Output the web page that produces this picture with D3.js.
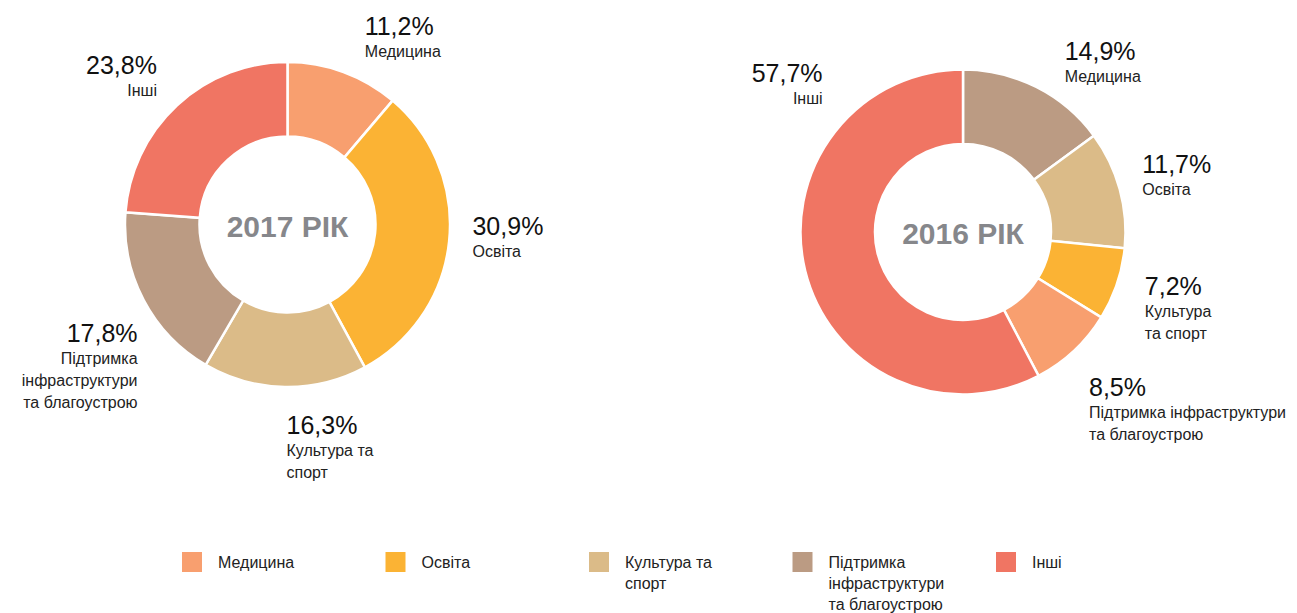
<!DOCTYPE html>
<html>
<head>
<meta charset="utf-8">
<script src="https://cdn.jsdelivr.net/npm/d3@7"></script>
<style>
  body { margin: 0; background: #fff; }
  text { font-family: "Liberation Sans", Arial, sans-serif; }
</style>
</head>
<body>
<script>
// categories and shares (%)
var categories = ["Медицина", "Освіта", "Культура та спорт", "Підтримка інфраструктури та благоустрою", "Інші"];
var values2017 = [11.2, 30.9, 16.3, 17.8, 23.8];
var values2016 = [14.9, 11.7, 7.2, 8.5, 57.7];
var years = ["2017 РІК", "2016 РІК"];

// label text as it is broken into lines on each chart
var labels2017 = [["Медицина"], ["Освіта"], ["Культура та", "спорт"], ["Підтримка", "інфраструктури", "та благоустрою"], ["Інші"]];
var labels2016 = [["Медицина"], ["Освіта"], ["Культура", "та спорт"], ["Підтримка інфраструктури", "та благоустрою"], ["Інші"]];
var legendLines = [["Медицина"], ["Освіта"], ["Культура та", "спорт"], ["Підтримка", "інфраструктури", "та благоустрою"], ["Інші"]];

var width = 1297, height = 613;
var outerR = 162.5, innerR = 88, labelR = 192;

var legendColors = ["#f89f6f", "#fbb334", "#dbbb88", "#bb9b83", "#f07563"];
var charts = [
  {title: years[0], values: values2017, labels: labels2017, cx: 287.5, cy: 224.5,
   colors: legendColors,
   nudge: [[11, -9], [-6, -9], [2, 18], [20, 28], [0, -10]]},
  {title: years[1], values: values2016, labels: labels2016, cx: 963, cy: 232,
   colors: ["#bb9b83", "#dbbb88", "#fbb334", "#f89f6f", "#f07563"],
   nudge: [[15, -1], [-6, -8], [0, 1], [-5, 24], [46, -196]]}
];

var fmt = function(v) { return v.toFixed(1).replace(".", ",") + "%"; };

var svg = d3.select("body").append("svg")
    .attr("width", width)
    .attr("height", height);

var pie = d3.pie().sort(null).value(function(d) { return d.value; });
var arc = d3.arc().innerRadius(innerR).outerRadius(outerR);

charts.forEach(function(c) {
  var data = categories.map(function(k, i) {
    return {name: k, value: c.values[i], lines: c.labels[i], color: c.colors[i], nudge: c.nudge[i]};
  });
  var g = svg.append("g").attr("transform", "translate(" + c.cx + "," + c.cy + ")");
  var arcs = pie(data);

  g.selectAll("path.slice")
    .data(arcs)
    .enter().append("path")
      .attr("class", "slice")
      .attr("d", arc)
      .style("fill", function(d) { return d.data.color; })
      .style("stroke", "#fff")
      .style("stroke-width", 2.5);

  g.append("text")
      .attr("x", 0)
      .attr("y", 12)
      .attr("text-anchor", "middle")
      .style("font-size", "30px")
      .style("font-weight", "bold")
      .style("fill", "#86878b")
      .text(c.title);

  var lab = g.selectAll("g.lab")
    .data(arcs)
    .enter().append("g")
      .attr("class", "lab")
      .attr("transform", function(d) {
        var a = (d.startAngle + d.endAngle) / 2;
        var x = labelR * Math.sin(a) + d.data.nudge[0];
        var y = -labelR * Math.cos(a) + d.data.nudge[1];
        return "translate(" + x + "," + y + ")";
      });

  lab.each(function(d) {
    var a = (d.startAngle + d.endAngle) / 2;
    var anchor = Math.sin(a) < -0.05 ? "end" : "start";
    var sel = d3.select(this);
    sel.append("text")
        .attr("text-anchor", anchor)
        .style("font-size", "25px")
        .style("fill", "#111")
        .text(fmt(d.data.value));
    d.data.lines.forEach(function(line, j) {
      sel.append("text")
          .attr("text-anchor", anchor)
          .attr("y", 22 * (j + 1))
          .style("font-size", "16px")
          .style("fill", "#222")
          .text(line);
    });
  });
});

// legend
var lx = d3.scalePoint().domain(categories).range([182, 996]);
var legend = svg.selectAll("g.legend")
  .data(categories)
  .enter().append("g")
    .attr("class", "legend")
    .attr("transform", function(d) { return "translate(" + lx(d) + ",552)"; });

legend.append("rect")
    .attr("width", 20)
    .attr("height", 20)
    .style("fill", function(d, i) { return legendColors[i]; });

legend.each(function(d, i) {
  var sel = d3.select(this);
  legendLines[i].forEach(function(line, j) {
    sel.append("text")
        .attr("x", 36)
        .attr("y", 16 + 21 * j)
        .style("font-size", "16px")
        .style("fill", "#222")
        .text(line);
  });
});
</script>
</body>
</html>
